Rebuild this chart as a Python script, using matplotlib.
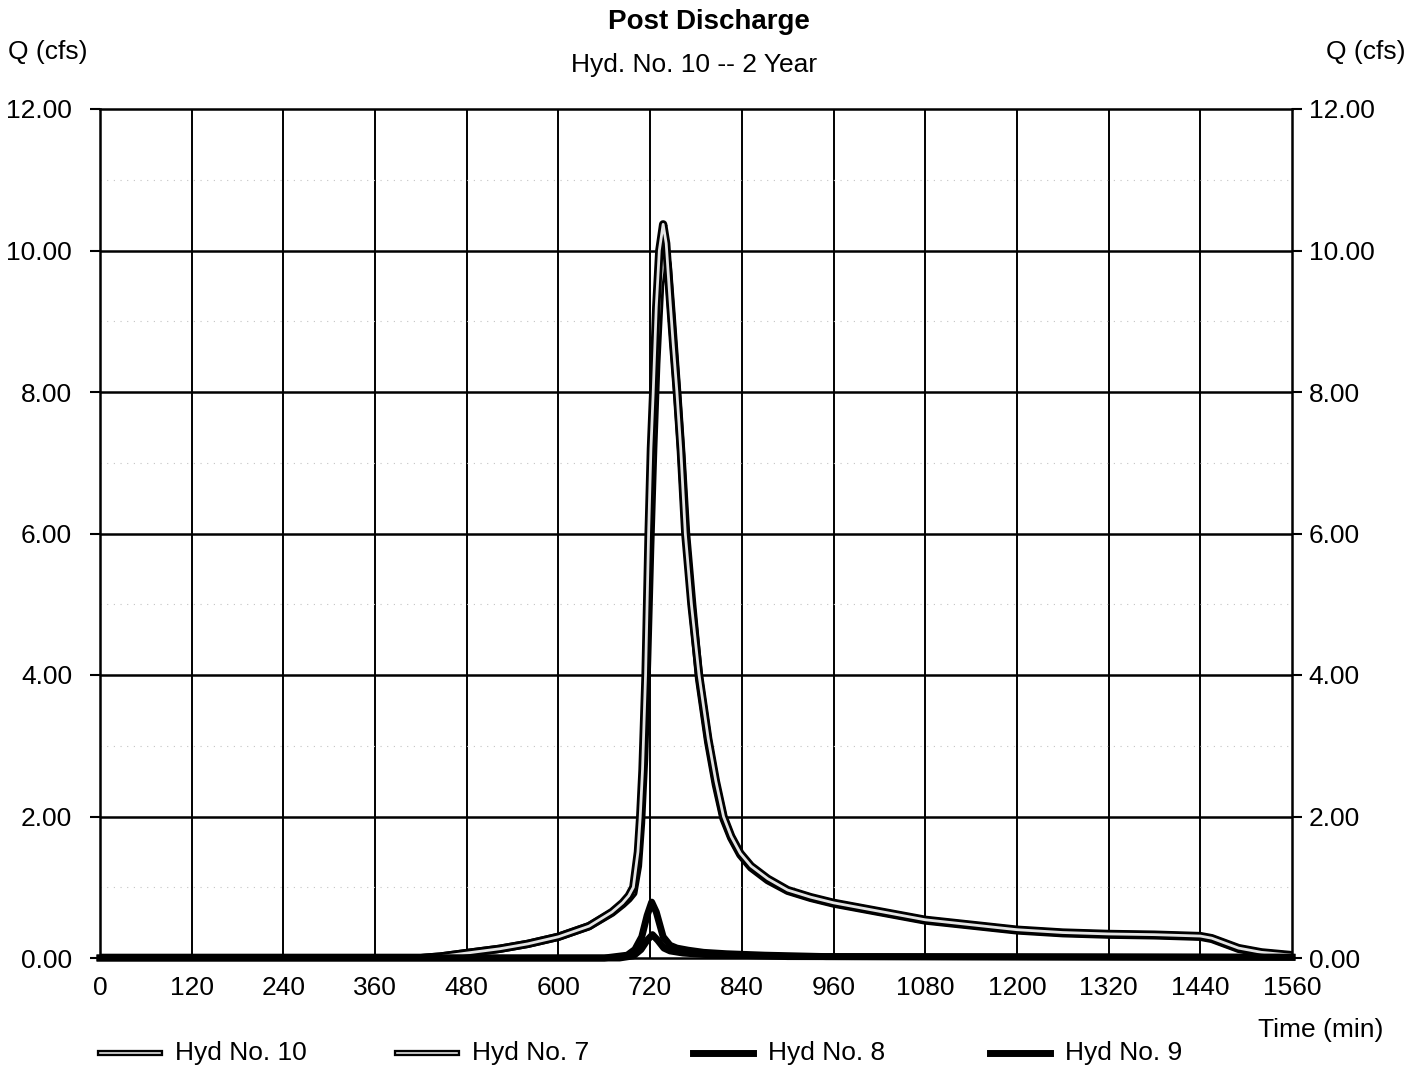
import matplotlib
matplotlib.use("Agg")
import matplotlib.pyplot as plt
from matplotlib.lines import Line2D

plt.rcParams['font.family'] = ['Liberation Sans', 'DejaVu Sans']

# Hyd No. 10 (total)
t_hyd10 = [0, 420, 445, 480, 523, 560, 600, 640, 670, 684, 692, 698, 704, 707, 710, 714, 718, 721,
           724, 728, 732, 737, 741, 746, 750, 755, 760, 766, 774, 784, 796, 806, 816, 826, 838, 852,
           874, 900, 930, 960, 1020, 1080, 1140, 1200, 1260, 1320, 1380, 1440, 1455, 1470, 1490, 1520, 1560]
q_hyd10 = [0, 0, 0.02, 0.07, 0.13, 0.20, 0.30, 0.45, 0.65, 0.78, 0.88, 1.0, 1.5, 2.0, 2.66, 4.0, 6.0, 7.2,
           8.0, 9.2, 10.0, 10.37, 10.1, 9.3, 8.7, 8.0, 7.2, 6.0, 5.0, 4.0, 3.1, 2.5, 2.0, 1.72, 1.48, 1.30,
           1.12, 0.96, 0.86, 0.78, 0.66, 0.54, 0.47, 0.40, 0.36, 0.34, 0.33, 0.31, 0.28, 0.22, 0.14, 0.08, 0.04]

# Hyd No. 7
t_hyd7 = [0, 420, 445, 480, 523, 560, 600, 640, 670, 684, 692, 698, 704, 708, 712, 716, 720, 724,
          728, 733, 739, 743, 748, 752, 756, 761, 767, 775, 784, 796, 806, 816, 826, 838, 852,
          874, 900, 930, 960, 1020, 1080, 1140, 1200, 1260, 1320, 1380, 1440, 1455, 1470, 1490, 1520, 1560]
q_hyd7 = [0, 0, 0.02, 0.07, 0.13, 0.20, 0.30, 0.45, 0.64, 0.76, 0.84, 0.92, 1.3, 1.9, 2.8, 4.2, 5.8, 7.2,
          8.4, 9.5, 9.98, 9.8, 9.1, 8.5, 7.9, 7.1, 6.0, 5.0, 3.95, 3.05, 2.45, 1.97, 1.70, 1.46, 1.28,
          1.10, 0.95, 0.85, 0.77, 0.65, 0.53, 0.46, 0.39, 0.35, 0.33, 0.32, 0.30, 0.27, 0.21, 0.13, 0.07, 0.03]

# Hyd No. 8
t_hyd8 = [0, 660, 690, 700, 709, 716, 722, 728, 737, 746, 755, 770, 790, 820, 870, 950, 1560]
q_hyd8 = [0, 0, 0.04, 0.12, 0.30, 0.60, 0.79, 0.65, 0.30, 0.18, 0.14, 0.11, 0.08, 0.06, 0.04, 0.02, 0.01]

# Hyd No. 9
t_hyd9 = [0, 680, 698, 708, 716, 723, 730, 738, 746, 763, 790, 828, 900, 1560]
q_hyd9 = [0, 0, 0.03, 0.12, 0.25, 0.33, 0.25, 0.14, 0.10, 0.07, 0.05, 0.04, 0.02, 0.01]

x_ticks = list(range(0, 1561, 120))
y_ticks = [0, 2, 4, 6, 8, 10, 12]
y_minor = [1, 3, 5, 7, 9, 11]

fig = plt.figure(figsize=(14.18, 10.69), dpi=100)
ax = fig.add_axes([100 / 1418, 1 - 958 / 1069, 1192 / 1418, 849 / 1069])
ax.set_xlim(0, 1560)
ax.set_ylim(0, 12)

for x in x_ticks[1:-1]:
    ax.axvline(x, color='black', lw=1.4, zorder=1)
for y in y_ticks[1:-1]:
    ax.axhline(y, color='black', lw=1.8, zorder=1)
for y in y_minor:
    ax.axhline(y, color='#c4c4c4', lw=0.8, ls=(0, (1, 5)), zorder=1)

# double-stroke lines (black outline, light core)
ax.plot(t_hyd7, q_hyd7, color='black', lw=6, zorder=3)
ax.plot(t_hyd7, q_hyd7, color='#e4e4e4', lw=2, zorder=4)
ax.plot(t_hyd10, q_hyd10, color='black', lw=6, zorder=5)
ax.plot(t_hyd10, q_hyd10, color='#e4e4e4', lw=2, zorder=6)
ax.plot(t_hyd8, q_hyd8, color='black', lw=5, zorder=7, clip_on=False)
ax.plot(t_hyd9, q_hyd9, color='black', lw=5, zorder=8, clip_on=False)

for s in ax.spines.values():
    s.set_linewidth(1.8)
    s.set_zorder(9)

ax.set_xticks(x_ticks)
ax.set_xticklabels([str(v) for v in x_ticks])
ax.set_yticks(y_ticks)
ax.set_yticklabels(['%.2f' % v for v in y_ticks])
ax.tick_params(axis='x', length=0, pad=13, labelsize=19)
ax.tick_params(axis='y', length=7, width=1.5, direction='out', pad=13, labelsize=19)

ax2 = ax.twinx()
ax2.set_ylim(0, 12)
ax2.set_yticks(y_ticks)
ax2.set_yticklabels(['%.2f' % v for v in y_ticks])
ax2.tick_params(axis='y', length=7, width=1.5, direction='out', pad=5, labelsize=19)
for s in ax2.spines.values():
    s.set_visible(False)

fig.text(709 / 1418, 1 - 22 / 1069, 'Post Discharge', ha='center', va='center',
         fontsize=20, fontweight='bold')
fig.text(694 / 1418, 1 - 65 / 1069, 'Hyd. No. 10 -- 2 Year', ha='center', va='center', fontsize=19)
fig.text(8 / 1418, 1 - 52 / 1069, 'Q (cfs)', ha='left', va='center', fontsize=19)
fig.text(1405 / 1418, 1 - 52 / 1069, 'Q (cfs)', ha='right', va='center', fontsize=19)
fig.text(1383 / 1418, 1 - 1030 / 1069, 'Time (min)', ha='right', va='center', fontsize=19)

# legend along the bottom
legend_names = ['Hyd No. 10', 'Hyd No. 7', 'Hyd No. 8', 'Hyd No. 9']
legend_x = [100, 397, 693, 990]
ly = 1 - 1053 / 1069
for i, name in enumerate(legend_names):
    x0 = legend_x[i] / 1418
    x1 = (legend_x[i] + 60) / 1418
    fig.add_artist(Line2D([x0, x1], [ly, ly], color='black', lw=5 if i > 1 else 4.5))
    if i < 2:
        fig.add_artist(Line2D([x0, x1], [ly, ly], color='#e4e4e4', lw=1.2))
    fig.text((legend_x[i] + 75) / 1418, ly, name, ha='left', va='center', fontsize=19)

fig.savefig('out.png', dpi=100)
